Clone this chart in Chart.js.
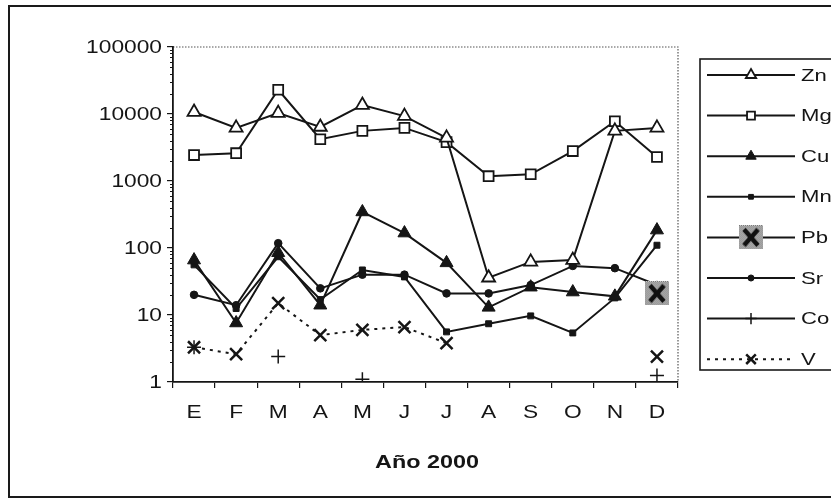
<!DOCTYPE html>
<html>
<head>
<meta charset="utf-8">
<script src="https://cdn.jsdelivr.net/npm/chart.js@4.4.1/dist/chart.umd.min.js"></script>
<style>
html,body{margin:0;padding:0;background:#fff;}
#wrap{width:831px;height:500px;position:relative;}
</style>
</head>
<body>
<div id="wrap"><canvas id="c" width="831" height="500"></canvas></div>
<script>
const months = ['E','F','M','A','M','J','J','A','S','O','N','D'];
const yTickValues = [1,10,100,1000,10000,100000];
const xTitle = 'Año 2000';
const seriesNames = ['Zn','Mg','Cu','Mn','Pb','Sr','Co','V'];

const zn = [10700, 6200, 10300, 6400, 13600, 9300, 4400, 36, 62, 66, 5600, 6200];
const mg = [2440, 2600, 23000, 4200, 5600, 6200, 3800, 1180, 1260, 2800, 7800, 2280];
const cu = [66, 7.6, 85, 14, 345, 167, 60, 13, 26, 22, 19, 185];
const mn = [56, 12.5, 74, 17, 47, 37, 5.6, 7.4, 9.7, 5.4, 18, 110];
const pb = [null, null, null, null, null, null, null, null, null, null, null, 21];
const sr = [20, 14, 118, 25, 40, 40, 21, 21, 28, 54, 50, 28];
const co = [3.3, null, 2.4, null, 1.1, null, null, null, null, null, null, 1.25];
const v  = [3.3, 2.6, 15, 5, 6, 6.6, 3.8, null, null, null, null, 2.4];

// Pb marker: stippled grey square with black X
const pbImg = document.createElement('canvas');
pbImg.width = 24; pbImg.height = 24;
(function(){
  const g = pbImg.getContext('2d');
  g.fillStyle = '#c8c8c8'; g.fillRect(0,0,24,24);
  g.fillStyle = '#7a7a7a';
  for (let yy=0; yy<24; yy++) for (let xx=(yy%2); xx<24; xx+=2) g.fillRect(xx,yy,1,1);
  g.strokeStyle = '#111'; g.lineWidth = 4.5; g.lineCap='butt';
  g.beginPath(); g.moveTo(5,4); g.lineTo(19,20); g.moveTo(19,4); g.lineTo(5,20); g.stroke();
})();

const FONT = "'Liberation Sans', Arial, sans-serif";
const INK = '#151515';
const SX = 1.3; // horizontal stretch of the reference text

const datasets = [
  {label:'Zn', data:zn, pointStyle:'triangle', pointRadius:7.5, pointBackgroundColor:'#fff', pointBorderWidth:1.8},
  {label:'Mg', data:mg, pointStyle:'rect', pointRadius:7, pointBackgroundColor:'#fff', pointBorderWidth:1.8},
  {label:'Cu', data:cu, pointStyle:'triangle', pointRadius:7.5, pointBackgroundColor:INK, pointBorderWidth:1},
  {label:'Mn', data:mn, pointStyle:'rect', pointRadius:4.2, pointBackgroundColor:INK, pointBorderWidth:1},
  {label:'Pb', data:pb, pointStyle:pbImg, pointRadius:12, pointBackgroundColor:'#999', pointBorderWidth:0},
  {label:'Sr', data:sr, pointStyle:'circle', pointRadius:3.8, pointBackgroundColor:INK, pointBorderWidth:1},
  {label:'Co', data:co, pointStyle:'cross', pointRadius:7, pointBackgroundColor:INK, pointBorderWidth:1.5},
  {label:'V', data:v, pointStyle:'crossRot', pointRadius:8.5, pointBackgroundColor:INK, pointBorderWidth:2.5, borderDash:[3,5]}
].map(d => Object.assign({
  borderColor: INK, borderWidth: 2, pointBorderColor: INK, pointHoverRadius: d.pointRadius,
  tension: 0, spanGaps: false, fill: false
}, d));

function stretchText(ctx, text, x, y, align, font){
  ctx.save();
  ctx.font = font; ctx.textAlign = align; ctx.textBaseline = 'middle';
  ctx.translate(x, y); ctx.scale(SX, 1);
  ctx.fillText(text, 0, 0);
  ctx.restore();
}

const framePlugin = {
  id: 'frame',
  beforeDraw(chart){
    const ctx = chart.ctx, a = chart.chartArea;
    ctx.save();
    ctx.fillStyle = '#fff'; ctx.fillRect(0,0,chart.width,chart.height);
    ctx.strokeStyle = '#1a1a1a'; ctx.lineWidth = 2;
    ctx.strokeRect(9, 6, 840, 491);
    ctx.strokeStyle = '#555'; ctx.lineWidth = 1.2; ctx.setLineDash([1.5,1.5]);
    ctx.beginPath(); ctx.moveTo(a.left, a.top); ctx.lineTo(a.right, a.top); ctx.lineTo(a.right, a.bottom); ctx.stroke();
    ctx.setLineDash([]);
    ctx.restore();
  },
  afterDraw(chart){
    const ctx = chart.ctx, a = chart.chartArea, ys = chart.scales.y, xs = chart.scales.x;
    ctx.save();
    // minor log ticks
    ctx.strokeStyle = INK; ctx.lineWidth = 1;
    ctx.beginPath();
    for (let e=0; e<5; e++) for (let m=2; m<10; m++){
      const py = Math.round(ys.getPixelForValue(m*Math.pow(10,e))) + 0.5;
      ctx.moveTo(a.left - 3, py); ctx.lineTo(a.left, py);
    }
    ctx.stroke();
    ctx.fillStyle = INK;
    yTickValues.forEach(val => {
      stretchText(ctx, String(val), 162, ys.getPixelForValue(val) + 1, 'right', "17.5px " + FONT);
    });
    months.forEach((m, i) => {
      stretchText(ctx, m, xs.getPixelForTick(i), 413, 'center', "17.5px " + FONT);
    });
    stretchText(ctx, xTitle, 427, 463, 'center', "bold 18px " + FONT);
    // legend
    const lx = 700, ly = 59;
    ctx.strokeStyle = '#1a1a1a'; ctx.lineWidth = 1.6;
    ctx.strokeRect(lx, ly, 150, 311);
    const H = Chart.helpers;
    chart.data.datasets.forEach((ds, i) => {
      const y = 75 + i*40.6;
      ctx.strokeStyle = INK; ctx.lineWidth = 2;
      ctx.setLineDash(ds.borderDash || []);
      ctx.beginPath(); ctx.moveTo(707, y); ctx.lineTo(795, y); ctx.stroke();
      ctx.setLineDash([]);
      ctx.fillStyle = ds.pointBackgroundColor; ctx.strokeStyle = INK;
      ctx.lineWidth = ds.pointBorderWidth;
      const r = ds.pointStyle === pbImg ? 11 : Math.max(3, ds.pointRadius*0.8);
      H.drawPoint(ctx, {pointStyle: ds.pointStyle, radius: r, rotation: 0, borderWidth: ds.pointBorderWidth}, 751, y);
      ctx.fillStyle = INK;
      stretchText(ctx, ds.label, 801, y + 1, 'left', "17px " + FONT);
    });
    ctx.restore();
  }
};

new Chart(document.getElementById('c'), {
  type: 'line',
  data: { labels: months, datasets },
  plugins: [framePlugin],
  options: {
    responsive: false, animation: false, devicePixelRatio: 1,
    layout: { padding: { left: 0, right: 153, top: 47, bottom: 0 } },
    plugins: { legend: { display: false }, tooltip: { enabled: false } },
    scales: {
      x: {
        type: 'category', offset: true,
        grid: { display: true, drawOnChartArea: false, drawTicks: true, tickLength: 6, color: INK, offset: true, lineWidth: 1.2 },
        border: { display: true, color: INK, width: 1.8 },
        ticks: { display: false, autoSkip: false },
        afterFit(s){ s.height = 118; }
      },
      y: {
        type: 'logarithmic', min: 1, max: 100000,
        grid: { display: true, drawOnChartArea: false, drawTicks: true, tickLength: 6, color: INK, lineWidth: 1.2 },
        border: { display: true, color: INK, width: 1.8 },
        afterBuildTicks(s){ s.ticks = yTickValues.map(v => ({ value: v })); },
        ticks: { display: false },
        afterFit(s){ s.width = 173; }
      }
    }
  }
});
</script>
</body>
</html>
